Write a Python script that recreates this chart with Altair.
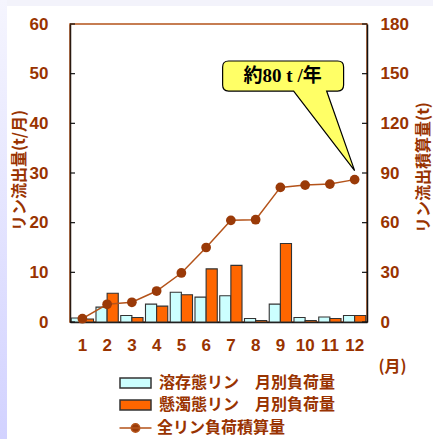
import altair as alt
import pandas as pd

# Monthly phosphorus loads (t/month) and running total (t)
months = [1, 2, 3, 4, 5, 6, 7, 8, 9, 10, 11, 12]
dissolved = [0.8, 3.0, 1.3, 3.6, 6.0, 5.0, 5.3, 0.7, 3.6, 0.9, 1.0, 1.3]
suspended = [0.6, 5.8, 0.9, 3.2, 5.5, 10.7, 11.4, 0.3, 15.8, 0.3, 0.7, 1.3]
cumulative = [2.0, 10.7, 11.9, 18.7, 29.6, 45.0, 61.4, 61.8, 81.3, 82.7, 83.3, 86.0]

bar_kinds = ["溶存態リン　月別負荷量", "懸濁態リン　月別負荷量"]
line_kind = "全リン負荷積算量"
left_ticks = [0, 10, 20, 30, 40, 50, 60]
right_ticks = [0, 30, 60, 90, 120, 150, 180]
callout_text = "約80 t /年"

BROWN = "#993300"
LINE = "#B4531A"
DOT = "#9A3A08"
JP = "Noto Sans CJK JP"
NUM = "Liberation Sans"

bars_df = pd.DataFrame(
    {
        "month": months * 2,
        "kind": [bar_kinds[0]] * 12 + [bar_kinds[1]] * 12,
        "value": dissolved + suspended,
    }
)
line_df = pd.DataFrame({"month": months, "cum": cumulative, "kind": [line_kind] * 12})
last_df = line_df.tail(1)

x_enc = alt.X(
    "month:O",
    scale=alt.Scale(paddingInner=0.1, paddingOuter=0.05),
    axis=alt.Axis(
        labelAngle=0,
        tickSize=0,
        labelPadding=15,
        labelFont=NUM,
        labelFontSize=17,
        labelFontWeight="bold",
        labelColor=BROWN,
        domainColor="#111111",
        domainWidth=1.5,
        title="(月)",
        titleFont=JP,
        titleFontSize=16,
        titleFontWeight="bold",
        titleColor=BROWN,
        titleX=322,
        titleY=44,
        titleAlign="center",
        titleBaseline="middle",
    ),
)

# decorative lavender edges of the page
edge_df = pd.DataFrame({"k": [0]})
left_edge = alt.Chart(edge_df).mark_rect(
    fill=alt.LinearGradient(
        gradient="linear",
        x1=0, y1=0, x2=0, y2=1,
        stops=[
            alt.GradientStop(color="#f5f5fe", offset=0),
            alt.GradientStop(color="#d2d2ff", offset=1),
        ],
    )
).encode(x=alt.value(-70), x2=alt.value(-63), y=alt.value(-24), y2=alt.value(415))
top_edge = alt.Chart(edge_df).mark_rect(fill="#f3f3fb").encode(
    x=alt.value(-63), x2=alt.value(363), y=alt.value(-24), y2=alt.value(-18)
)

bars = alt.Chart(bars_df).mark_bar(stroke="#333333", strokeWidth=1.1).encode(
    x=x_enc,
    xOffset=alt.XOffset("kind:N", sort=bar_kinds, scale=alt.Scale(paddingInner=0)),
    y=alt.Y(
        "value:Q",
        scale=alt.Scale(domain=[0, 60], nice=False),
        axis=alt.Axis(
            orient="left",
            values=left_ticks,
            tickSize=0,
            labelPadding=22,
            labelFont=NUM,
            labelFontSize=17,
            labelFontWeight="bold",
            labelColor=BROWN,
            domainColor="#2a1a10",
            domainWidth=1.5,
            grid=False,
            title="リン流出量(t/月)",
            titleFont=JP,
            titleFontSize=16,
            titleFontWeight="bold",
            titleColor=BROWN,
            titleAngle=270,
            titleX=-51,
            titleY=146,
            titleAlign="center",
            titleBaseline="middle",
        ),
    ),
    fill=alt.Fill(
        "kind:N",
        sort=bar_kinds,
        scale=alt.Scale(domain=bar_kinds, range=["#CCFFFF", "#FF6600"]),
        legend=alt.Legend(
            title=None,
            orient="none",
            legendX=54.5,
            legendY=348,
            padding=0,
            rowPadding=3,
            symbolType="M-1.55,-0.5H1.55V0.5H-1.55Z",
            symbolSize=400,
            symbolStrokeColor="#333333",
            symbolStrokeWidth=1.5,
            symbolOffset=0,
            labelOffset=12.5,
            labelFont=JP,
            labelFontSize=16,
            labelFontWeight="bold",
            labelColor=BROWN,
            labelLimit=300,
        ),
    ),
)

left_tick_rules = alt.Chart(pd.DataFrame({"t": left_ticks})).mark_rule(
    color="#111111", strokeWidth=1.2
).encode(y=alt.Y("t:Q", scale=alt.Scale(domain=[0, 60])), x=alt.value(0), x2=alt.value(5))

left_layer = alt.layer(left_edge, top_edge, bars, left_tick_rules)

y_right = alt.Y(
    "cum:Q",
    scale=alt.Scale(domain=[0, 180], nice=False),
    axis=alt.Axis(
        orient="right",
        values=right_ticks,
        tickSize=0,
        labelPadding=13,
        labelFont=NUM,
        labelFontSize=17,
        labelFontWeight="bold",
        labelColor=BROWN,
        domainColor="#111111",
        domainWidth=1.5,
        grid=False,
        title="リン流出積算量(t)",
        titleFont=JP,
        titleFontSize=16,
        titleFontWeight="bold",
        titleColor=BROWN,
        titleAngle=270,
        titleX=56.5,
        titleY=143,
        titleAlign="center",
        titleBaseline="middle",
    ),
)

line = alt.Chart(line_df).mark_line(strokeWidth=1.5).encode(
    x="month:O",
    y=y_right,
    stroke=alt.Stroke(
        "kind:N",
        scale=alt.Scale(domain=[line_kind], range=[LINE]),
        legend=alt.Legend(
            title=None,
            orient="none",
            legendX=54.5,
            legendY=393,
            padding=0,
            symbolType="M-1.6,0H1.6M0.42,0A0.42,0.42,0,1,1,-0.42,0A0.42,0.42,0,1,1,0.42,0Z",
            symbolSize=400,
            symbolStrokeWidth=1.5,
            symbolFillColor=DOT,
            symbolOffset=0,
            labelOffset=10.5,
            labelFont=JP,
            labelFontSize=16,
            labelFontWeight="bold",
            labelColor=BROWN,
            labelLimit=300,
        ),
    ),
)

points = alt.Chart(line_df).mark_circle(size=95, color=DOT, opacity=1).encode(
    x="month:O", y="cum:Q"
)

# speech-bubble callout anchored on the December total
bubble = alt.Chart(last_df).mark_point(
    shape=(
        "M-1.909,-1.797L-0.258,-1.797Q-0.167,-1.797,-0.167,-1.706L-0.167,-1.433"
        "Q-0.167,-1.342,-0.258,-1.342L-0.424,-1.342L0,-0.136L-0.924,-1.342"
        "L-1.909,-1.342Q-2,-1.342,-2,-1.433L-2,-1.706Q-2,-1.797,-1.909,-1.797Z"
    ),
    size=17424,
    filled=True,
    fill="#FFFF66",
    stroke="#000000",
    strokeWidth=1.2,
    opacity=1,
).encode(x="month:O", y="cum:Q")

bubble_text = alt.Chart(last_df).mark_text(
    text=callout_text,
    dx=-72,
    dy=-104,
    align="center",
    baseline="middle",
    font="'Liberation Serif', 'Noto Sans CJK JP'",
    fontSize=19,
    fontWeight="bold",
    color="#000000",
).encode(x="month:O", y="cum:Q")

right_tick_rules = alt.Chart(pd.DataFrame({"t": right_ticks})).mark_rule(
    color="#111111", strokeWidth=1.2
).encode(y=alt.Y("t:Q"), x=alt.value(297), x2=alt.value(292))

right_layer = alt.layer(right_tick_rules, line, points, bubble, bubble_text)

chart = (
    alt.layer(left_layer, right_layer)
    .resolve_scale(y="independent")
    .properties(
        width=297,
        height=298,
        autosize=alt.AutoSizeParams(type="none"),
        padding={"left": 70, "top": 24, "right": 66, "bottom": 117},
        background="#ffffff",
    )
    .configure_view(stroke=LINE, strokeWidth=1.5)
)

chart.save("out.html", embed_options={"renderer": "svg", "actions": False})
